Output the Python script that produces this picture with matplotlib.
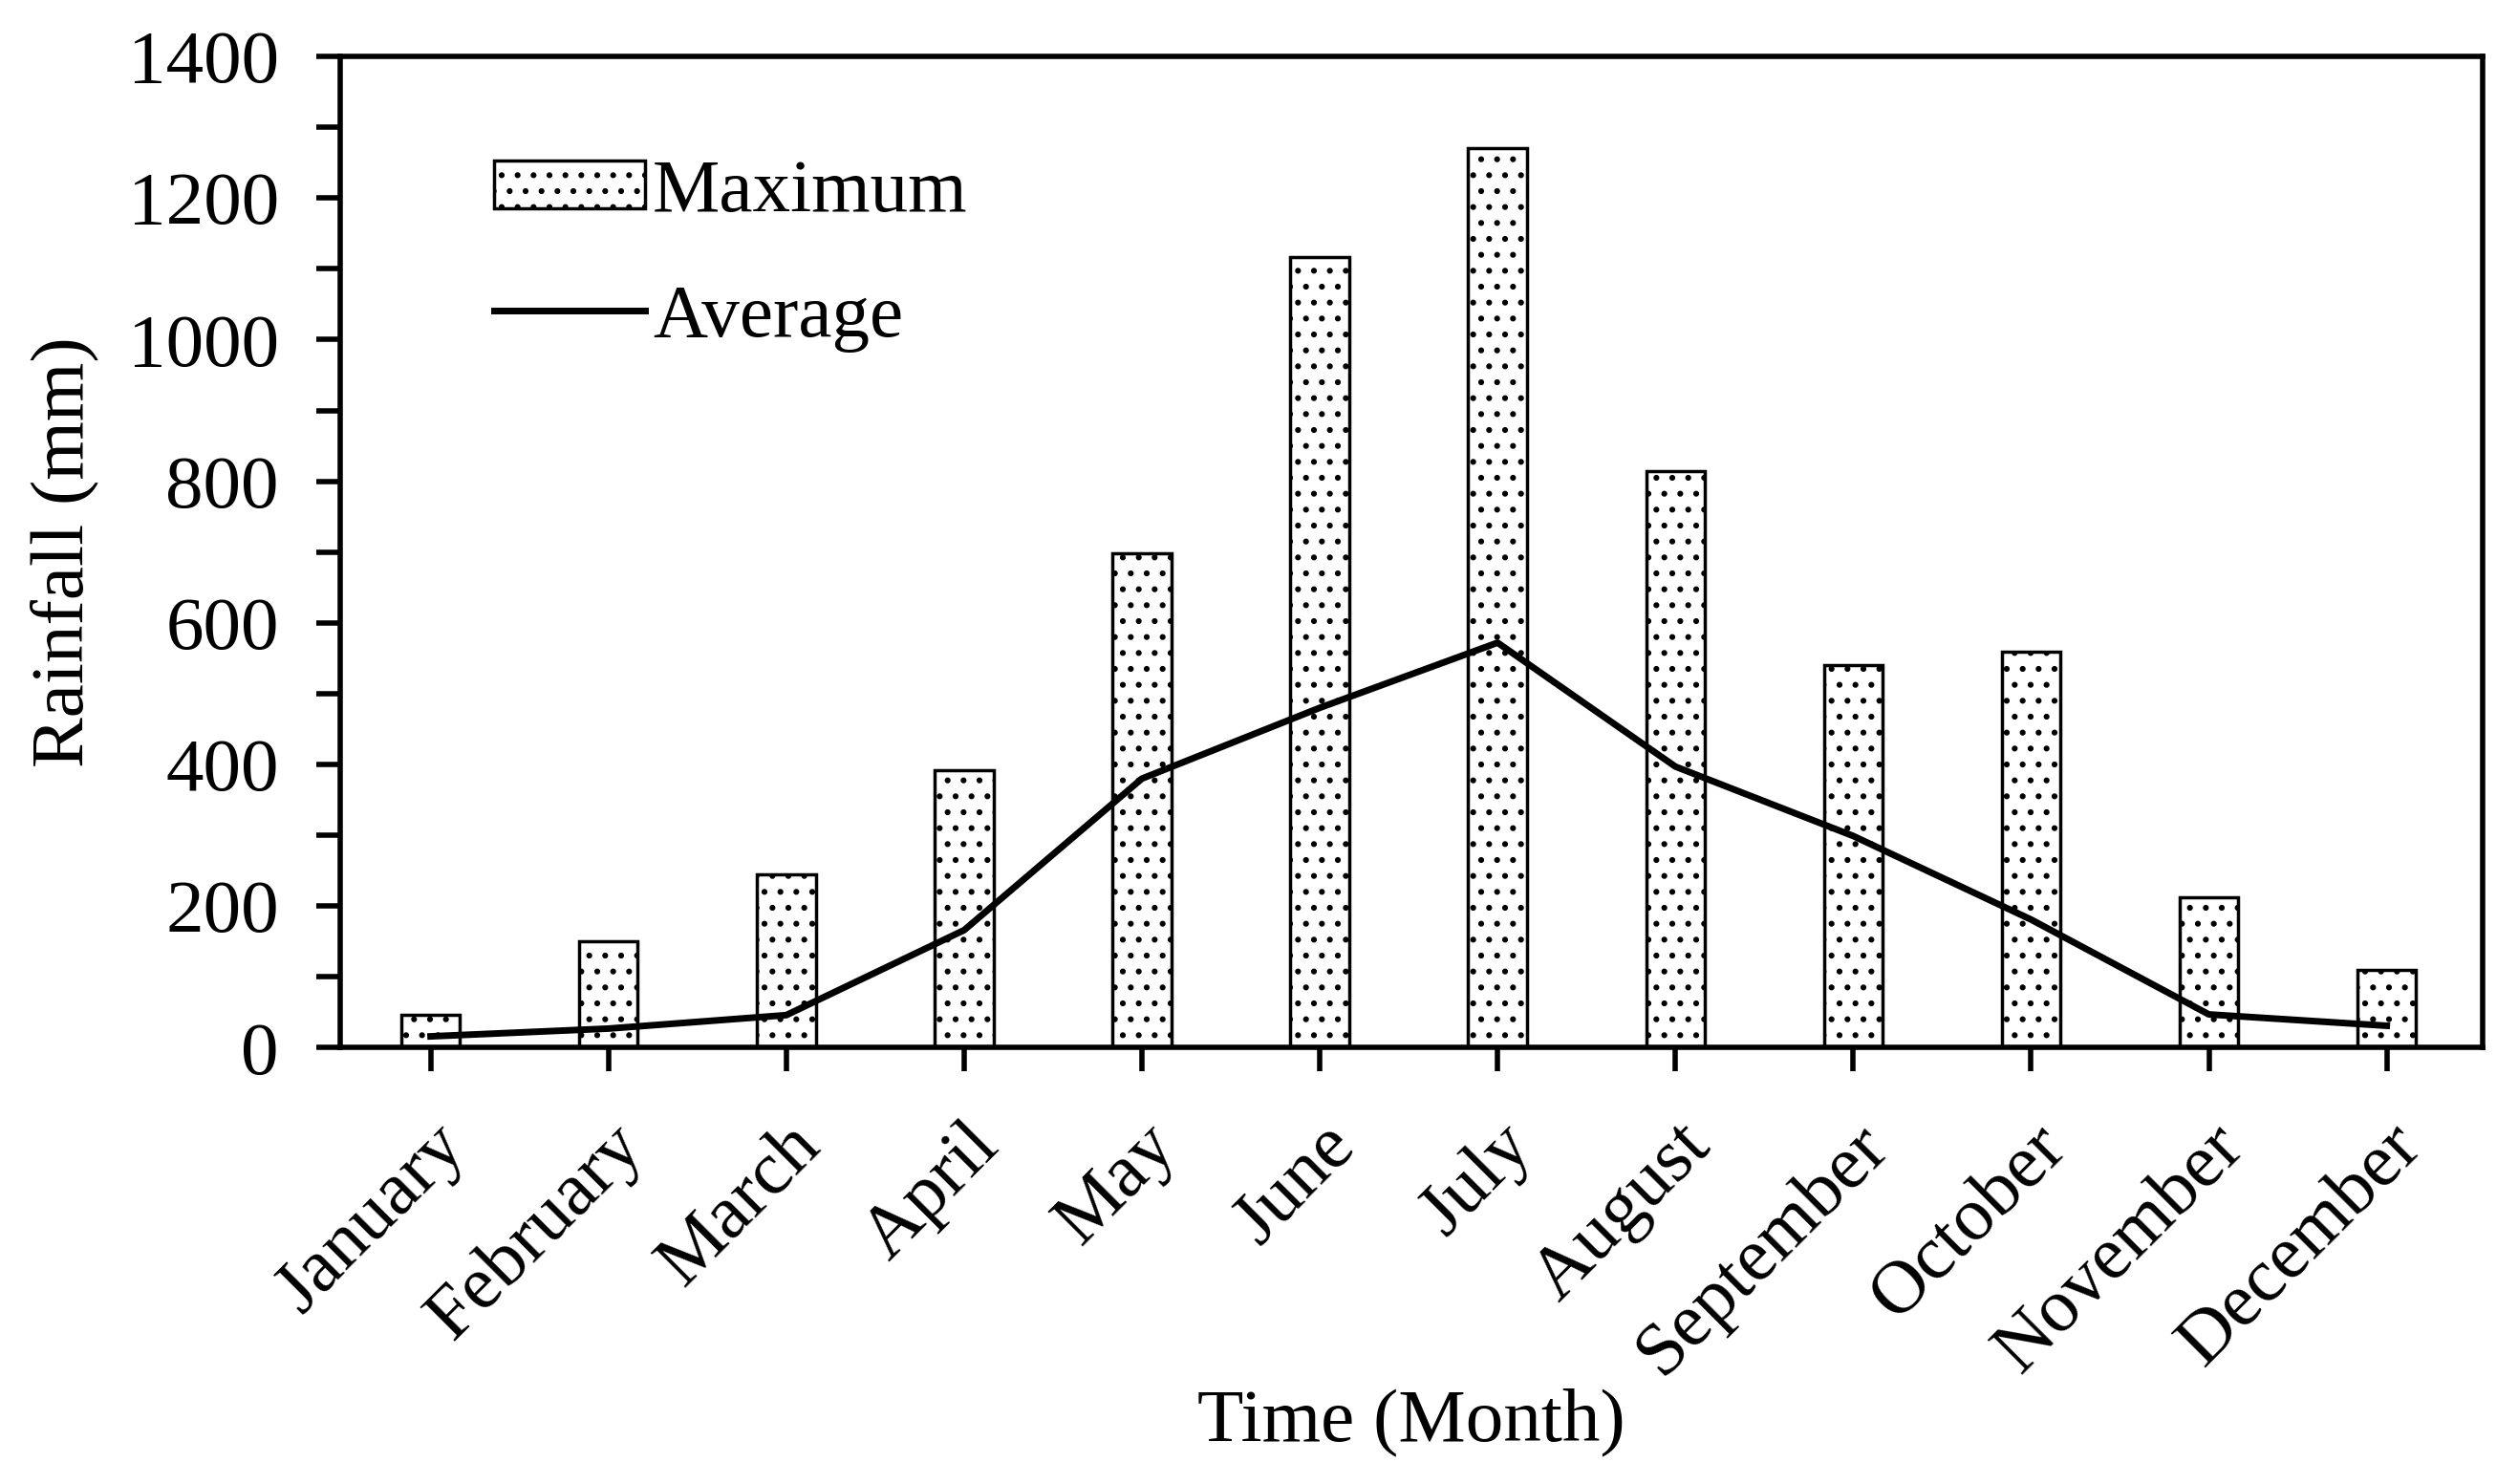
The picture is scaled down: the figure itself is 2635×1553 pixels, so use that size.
import matplotlib.pyplot as plt
import numpy as np

months = ['January', 'February', 'March', 'April', 'May', 'June', 'July',
          'August', 'September', 'October', 'November', 'December']
maximum = [46, 150, 245, 392, 698, 1116, 1271, 815, 541, 559, 213, 110]
average = [16, 27, 46, 166, 380, 480, 572, 397, 299, 181, 47, 31]

plt.rcParams['font.family'] = ['Liberation Serif', 'DejaVu Serif']
plt.rcParams['hatch.linewidth'] = 2.0

fig = plt.figure(figsize=(26.35, 15.53), dpi=100)
ax = fig.add_axes([0.135, 0.294, 0.851, 0.668])

x = np.arange(len(months))
bars = ax.bar(x, maximum, width=0.33, color='white', edgecolor='black',
              linewidth=2.5, hatch='.', label='Maximum', zorder=2)
line, = ax.plot(x, average, color='black', linewidth=5, label='Average',
                zorder=3)

ax.set_xlim(-0.51, 11.54)
ax.set_ylim(0, 1400)
ax.set_yticks(range(0, 1401, 200))
ax.set_yticks(range(0, 1401, 100), minor=True)
ax.set_xticks(x)
ax.set_xticklabels(months, rotation=45, ha='right', rotation_mode='anchor')

ax.tick_params(axis='both', which='both', direction='out', width=4,
               length=18, labelsize=57, top=False, right=False)
ax.tick_params(axis='x', pad=30)
ax.tick_params(axis='y', pad=28)
ax.tick_params(axis='y', which='minor', labelleft=False)
for s in ax.spines.values():
    s.set_linewidth(4)

ax.set_ylabel('Rainfall (mm)', fontsize=57, labelpad=22)
ax.set_xlabel('Time (Month)', fontsize=57, labelpad=0)

ax.legend([bars, line], ['Maximum', 'Average'], loc='upper left',
          bbox_to_anchor=(0.04, 0.965), frameon=False, fontsize=57,
          handlelength=2.0, handleheight=0.6, handletextpad=0.1,
          labelspacing=0.75)

plt.savefig('out.png', dpi=100)
